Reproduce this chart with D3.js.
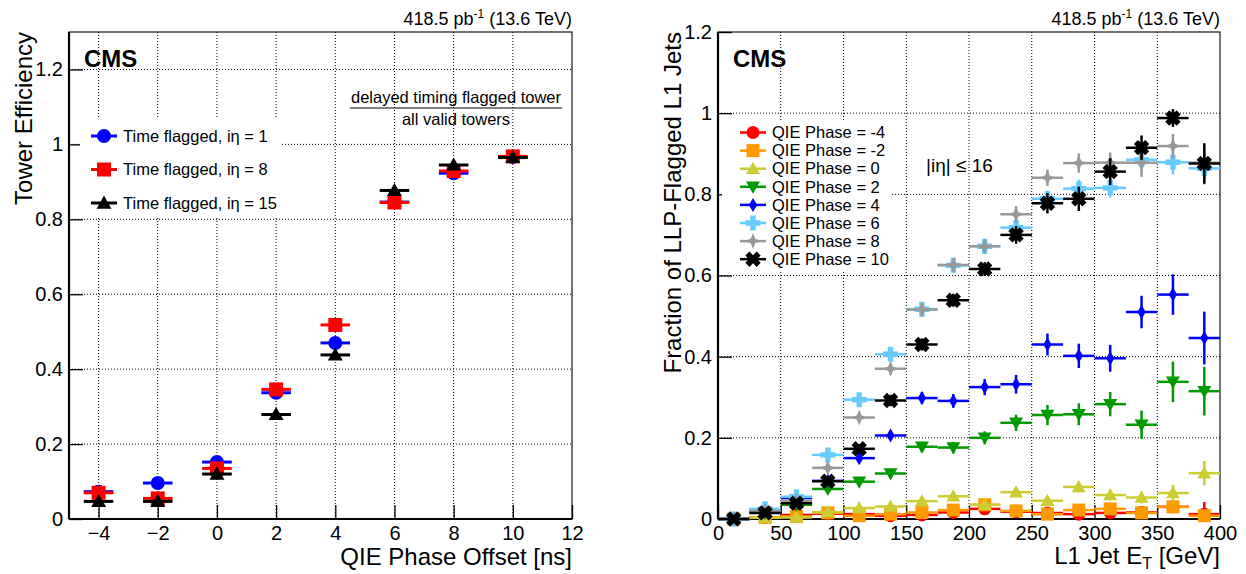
<!DOCTYPE html>
<html>
<head>
<meta charset="utf-8">
<script src="https://cdn.jsdelivr.net/npm/d3@7"></script>
<style>
  body { margin: 0; background: #fff; }
  text { font-family: "Liberation Sans", Arial, Helvetica, sans-serif; }
</style>
</head>
<body>
<svg id="chart" width="1246" height="574"></svg>
<script>
// ---- left panel: tower efficiency vs QIE phase offset
var phaseOffsets = [-4, -2, 0, 2, 4, 6, 8, 10];
var effIeta1  = [0.073, 0.096, 0.152, 0.337, 0.470, 0.846, 0.923, 0.966];
var effIeta8  = [0.070, 0.055, 0.135, 0.346, 0.518, 0.845, 0.929, 0.968];
var effIeta15 = [0.047, 0.047, 0.120, 0.279, 0.438, 0.877, 0.945, 0.965];
var leftXTicks = [-4, -2, 0, 2, 4, 6, 8, 10, 12];
var leftYTicks = [0, 0.2, 0.4, 0.6, 0.8, 1, 1.2];

// ---- right panel: fraction of LLP-flagged L1 jets vs L1 jet ET
var etBinCenters = [12.5, 37.5, 62.5, 87.5, 112.5, 137.5, 162.5, 187.5, 212.5, 237.5, 262.5, 287.5, 312.5, 337.5, 362.5, 387.5];
var fracPhaseM4 = [0.0, 0.004, 0.010, 0.013, 0.012, 0.008, 0.010, 0.016, 0.025, 0.018, 0.015, 0.012, 0.015, 0.016, 0.030, 0.012];
var errPhaseM4  = [0.002, 0.002, 0.003, 0.003, 0.004, 0.004, 0.005, 0.006, 0.007, 0.007, 0.008, 0.009, 0.010, 0.012, 0.015, 0.030];
var fracPhaseM2 = [0.0, 0.004, 0.006, 0.015, 0.008, 0.012, 0.016, 0.022, 0.035, 0.020, 0.012, 0.022, 0.025, 0.015, 0.030, 0.008];
var errPhaseM2  = [0.002, 0.002, 0.003, 0.003, 0.004, 0.004, 0.005, 0.006, 0.008, 0.007, 0.007, 0.009, 0.010, 0.010, 0.014, 0.012];
var fracPhase0  = [0.0, 0.003, 0.004, 0.017, 0.027, 0.031, 0.044, 0.056, 0.035, 0.066, 0.045, 0.079, 0.059, 0.053, 0.064, 0.113];
var errPhase0   = [0.002, 0.003, 0.003, 0.004, 0.005, 0.006, 0.007, 0.008, 0.008, 0.010, 0.010, 0.013, 0.013, 0.015, 0.020, 0.030];
var fracPhase2  = [0.0, 0.015, 0.035, 0.074, 0.092, 0.112, 0.178, 0.176, 0.200, 0.237, 0.256, 0.258, 0.283, 0.232, 0.338, 0.315];
var errPhase2   = [0.003, 0.004, 0.006, 0.008, 0.009, 0.010, 0.012, 0.014, 0.016, 0.020, 0.025, 0.027, 0.030, 0.035, 0.050, 0.060];
var fracPhase4  = [0.0, 0.022, 0.052, 0.094, 0.150, 0.206, 0.298, 0.291, 0.325, 0.332, 0.430, 0.402, 0.396, 0.510, 0.553, 0.446];
var errPhase4   = [0.003, 0.005, 0.007, 0.009, 0.010, 0.012, 0.015, 0.017, 0.020, 0.023, 0.027, 0.030, 0.033, 0.040, 0.050, 0.065];
var fracPhase6  = [0.0, 0.025, 0.055, 0.158, 0.294, 0.406, 0.517, 0.625, 0.672, 0.718, 0.789, 0.814, 0.816, 0.885, 0.879, 0.864];
var errPhase6   = [0.003, 0.005, 0.008, 0.010, 0.012, 0.014, 0.016, 0.016, 0.017, 0.018, 0.020, 0.022, 0.024, 0.025, 0.030, 0.040];
var fracPhase8  = [0.0, 0.020, 0.045, 0.126, 0.250, 0.370, 0.516, 0.626, 0.672, 0.751, 0.841, 0.877, 0.878, 0.878, 0.919, 0.878];
var errPhase8   = [0.003, 0.005, 0.008, 0.010, 0.012, 0.014, 0.016, 0.016, 0.017, 0.020, 0.020, 0.024, 0.025, 0.035, 0.030, 0.040];
var fracPhase10 = [0.0, 0.015, 0.039, 0.093, 0.173, 0.292, 0.430, 0.539, 0.616, 0.700, 0.778, 0.789, 0.856, 0.915, 0.988, 0.876];
var errPhase10  = [0.003, 0.005, 0.007, 0.010, 0.012, 0.014, 0.015, 0.016, 0.017, 0.022, 0.025, 0.030, 0.033, 0.030, 0.022, 0.050];
var rightXTicks = [0, 50, 100, 150, 200, 250, 300, 350, 400];
var rightYTicks = [0, 0.2, 0.4, 0.6, 0.8, 1, 1.2];

var FONT_TICK = 20, FONT_TITLE = 24;
var svg = d3.select("#chart");

// marker shapes, roughly like the ROOT ones
function markerPath(type, s) {
    var a = s / 2;
    switch (type) {
    case "circle":  return d3.symbol(d3.symbolCircle, Math.PI * a * a)();
    case "square":  return "M" + -a + "," + -a + "h" + s + "v" + s + "h" + -s + "Z";
    case "triUp":   return "M0," + (-a) + "L" + a + "," + (a * 0.75) + "L" + -a + "," + (a * 0.75) + "Z";
    case "triDown": return "M0," + a + "L" + a + "," + (-a * 0.75) + "L" + -a + "," + (-a * 0.75) + "Z";
    case "diamond": return "M0," + -a + "L" + a * 0.6 + ",0L0," + a + "L" + -a * 0.6 + ",0Z";
    case "plus":
    case "xcross":
        var t = a * 0.36;
        return "M" + -t + "," + -a + "H" + t + "V" + -t + "H" + a + "V" + t + "H" + t + "V" + a +
               "H" + -t + "V" + t + "H" + -a + "V" + -t + "H" + -t + "Z";
    case "star":
        var pts = [];
        for (var i = 0; i < 8; i++) {
            var r = (i % 2 == 0) ? a : a * 0.4, ang = i * Math.PI / 4 - Math.PI / 2;
            pts.push([r * Math.cos(ang), r * Math.sin(ang)]);
        }
        return "M" + pts.join("L") + "Z";
    }
}

function fmtTick(d) { return d3.format("~g")(d).replace("-", "\u2212"); }

// frame, grid, ticks and tick labels of one pad
function drawPad(x, y, xTicks, yTicks, xMinor, yMinor) {
    var x0 = x.range()[0], x1 = x.range()[1], yb = y.range()[0], yt = y.range()[1];
    var g = svg.append("g");

    // dotted grid on major ticks
    g.append("g").selectAll("line")
        .data(xTicks.filter(function (d) { return x(d) > x0 + 1 && x(d) < x1 - 1; }))
        .enter().append("line")
        .attr("x1", function (d) { return x(d); }).attr("x2", function (d) { return x(d); })
        .attr("y1", yb).attr("y2", yt)
        .attr("stroke", "#000").attr("stroke-width", 1).attr("stroke-dasharray", "1,2");
    g.append("g").selectAll("line")
        .data(yTicks.filter(function (d) { return y(d) < yb - 1 && y(d) > yt + 1; }))
        .enter().append("line")
        .attr("x1", x0).attr("x2", x1)
        .attr("y1", function (d) { return y(d); }).attr("y2", function (d) { return y(d); })
        .attr("stroke", "#000").attr("stroke-width", 1).attr("stroke-dasharray", "1,2");

    // axes, ticks pointing inside the frame
    var ax = g.append("g").attr("transform", "translate(0," + yb + ")");
    ax.call(d3.axisBottom(x).tickValues(xMinor).tickSize(-7).tickFormat(""));
    ax.call(d3.axisBottom(x).tickValues(xTicks).tickSize(-14).tickPadding(7).tickFormat(fmtTick));
    var ay = g.append("g").attr("transform", "translate(" + x0 + ",0)");
    ay.call(d3.axisLeft(y).tickValues(yMinor).tickSize(-7).tickFormat(""));
    ay.call(d3.axisLeft(y).tickValues(yTicks).tickSize(-14).tickPadding(6).tickFormat(fmtTick));
    g.selectAll(".domain").remove();
    g.selectAll(".tick line").attr("stroke", "#000").attr("stroke-width", 1.3);
    g.selectAll(".tick text").attr("font-size", FONT_TICK).attr("fill", "#000")
        .style("font-family", "'Liberation Sans', Arial, sans-serif");

    // frame box
    g.append("rect").attr("x", x0).attr("y", yt).attr("width", x1 - x0).attr("height", yb - yt)
        .attr("fill", "none").attr("stroke", "#000").attr("stroke-width", 1.1);
    g.append("line").attr("x1", x0).attr("x2", x1).attr("y1", yb).attr("y2", yb)
        .attr("stroke", "#000").attr("stroke-width", 2.2);
    g.append("line").attr("x1", x0).attr("x2", x0).attr("y1", yt).attr("y2", yb)
        .attr("stroke", "#000").attr("stroke-width", 2.2);
    return g;
}

function drawSeries(g, x, y, xs, ys, errs, halfW, s) {
    var pts = xs.map(function (d, i) { return { x: d, y: ys[i], e: errs ? errs[i] : 0 }; });
    var sg = g.append("g");
    sg.selectAll(".hbar").data(pts).enter().append("line")
        .attr("x1", function (d) { return x(d.x - halfW); })
        .attr("x2", function (d) { return x(d.x + halfW); })
        .attr("y1", function (d) { return y(d.y); }).attr("y2", function (d) { return y(d.y); })
        .attr("stroke", s.color).attr("stroke-width", s.lw);
    sg.selectAll(".vbar").data(pts.filter(function (d) { return d.e > 0; })).enter().append("line")
        .attr("x1", function (d) { return x(d.x); }).attr("x2", function (d) { return x(d.x); })
        .attr("y1", function (d) { return y(Math.max(0, d.y - d.e)); })
        .attr("y2", function (d) { return y(d.y + d.e); })
        .attr("stroke", s.color).attr("stroke-width", s.lw);
    sg.selectAll("path").data(pts).enter().append("path")
        .attr("d", markerPath(s.shape, s.size))
        .attr("transform", function (d) {
            return "translate(" + x(d.x) + "," + y(d.y) + ")" + (s.shape == "xcross" ? " rotate(45)" : "");
        })
        .attr("fill", s.color);
}

function legendEntry(g, cx, cy, s, label, fontSize) {
    g.append("line").attr("x1", cx - 13).attr("x2", cx + 13).attr("y1", cy).attr("y2", cy)
        .attr("stroke", s.color).attr("stroke-width", s.lw);
    g.append("path").attr("d", markerPath(s.shape, s.size))
        .attr("transform", "translate(" + cx + "," + cy + ")" + (s.shape == "xcross" ? " rotate(45)" : ""))
        .attr("fill", s.color);
    g.append("text").attr("x", cx + 19).attr("y", cy).attr("dy", "0.35em")
        .attr("font-size", fontSize).text(label);
}

function lumiLabel(xRight) {
    var t = svg.append("text").attr("x", xRight).attr("y", 25).attr("text-anchor", "end").attr("font-size", 18);
    t.append("tspan").text("418.5 pb");
    t.append("tspan").attr("dy", -7).attr("font-size", 12).text("-1");
    t.append("tspan").attr("dy", 7).text(" (13.6 TeV)");
}

// ================= left pad =================
var xL = d3.scaleLinear().domain([-5, 12]).range([69, 572]);
var yL = d3.scaleLinear().domain([0, 1.3]).range([519, 32]);
var gL = drawPad(xL, yL, leftXTicks, leftYTicks, d3.range(-5, 12.01, 0.5), d3.range(0, 1.3, 0.05));

// legend box covers the grid
gL.append("rect").attr("x", 80).attr("y", 118).attr("width", 202).attr("height", 100).attr("fill", "#fff");

var leftSeries = [
    { ys: effIeta1,  color: "#0000ff", shape: "circle", size: 14, lw: 3, label: "Time flagged, i\u03b7 = 1" },
    { ys: effIeta8,  color: "#ff0000", shape: "square", size: 14, lw: 3, label: "Time flagged, i\u03b7 = 8" },
    { ys: effIeta15, color: "#000000", shape: "triUp",  size: 15, lw: 3, label: "Time flagged, i\u03b7 = 15" }
];
leftSeries.forEach(function (s, i) {
    drawSeries(gL, xL, yL, phaseOffsets, s.ys, null, 0.5, s);
    legendEntry(gL, 104, 136 + i * 33.5, s, s.label, 16.5);
});

gL.append("text").attr("x", 456).attr("y", 103).attr("text-anchor", "middle").attr("font-size", 16.5)
    .text("delayed timing flagged tower");
gL.append("line").attr("x1", 350).attr("x2", 562).attr("y1", 108).attr("y2", 108)
    .attr("stroke", "#000").attr("stroke-width", 1.2);
gL.append("text").attr("x", 456).attr("y", 125).attr("text-anchor", "middle").attr("font-size", 16.5)
    .text("all valid towers");

svg.append("text").attr("x", 84).attr("y", 67).attr("font-size", 24).attr("font-weight", "bold").text("CMS");
lumiLabel(572);
svg.append("text").attr("transform", "translate(32,32) rotate(-90)").attr("text-anchor", "end")
    .attr("font-size", FONT_TITLE).text("Tower Efficiency");
svg.append("text").attr("x", 572).attr("y", 565).attr("text-anchor", "end")
    .attr("font-size", FONT_TITLE).text("QIE Phase Offset [ns]");

// ================= right pad =================
var xR = d3.scaleLinear().domain([0, 400]).range([718, 1220]);
var yR = d3.scaleLinear().domain([0, 1.2]).range([519, 32]);
var gR = drawPad(xR, yR, rightXTicks, rightYTicks, d3.range(0, 400.1, 10), d3.range(0, 1.2, 0.05));

gR.append("rect").attr("x", 722).attr("y", 121).attr("width", 170).attr("height", 150).attr("fill", "#fff");

var rightSeries = [
    { ys: fracPhaseM4, es: errPhaseM4, color: "#ff0000", shape: "circle",  size: 13, label: "QIE Phase = -4" },
    { ys: fracPhaseM2, es: errPhaseM2, color: "#ff9900", shape: "square",  size: 13, label: "QIE Phase = -2" },
    { ys: fracPhase0,  es: errPhase0,  color: "#cccc33", shape: "triUp",   size: 14, label: "QIE Phase = 0" },
    { ys: fracPhase2,  es: errPhase2,  color: "#009900", shape: "triDown", size: 14, label: "QIE Phase = 2" },
    { ys: fracPhase4,  es: errPhase4,  color: "#0000ff", shape: "diamond", size: 14, label: "QIE Phase = 4" },
    { ys: fracPhase6,  es: errPhase6,  color: "#66ccff", shape: "plus",    size: 15, label: "QIE Phase = 6" },
    { ys: fracPhase8,  es: errPhase8,  color: "#999999", shape: "star",    size: 16, label: "QIE Phase = 8" },
    { ys: fracPhase10, es: errPhase10, color: "#000000", shape: "xcross",  size: 16, label: "QIE Phase = 10" }
];
rightSeries.forEach(function (s, i) {
    s.lw = 2.5;
    drawSeries(gR, xR, yR, etBinCenters, s.ys, s.es, 12.5, s);
    legendEntry(gR, 753, 132.5 + i * 18.1, s, s.label, 16.5);
});

gR.append("text").attr("x", 926).attr("y", 172).attr("font-size", 19).text("|i\u03b7| \u2264 16");

svg.append("text").attr("x", 733).attr("y", 67).attr("font-size", 24).attr("font-weight", "bold").text("CMS");
lumiLabel(1220);
svg.append("text").attr("transform", "translate(681,32) rotate(-90)").attr("text-anchor", "end")
    .attr("font-size", FONT_TITLE).text("Fraction of LLP-Flagged L1 Jets");
var xt = svg.append("text").attr("x", 1220).attr("y", 564).attr("text-anchor", "end").attr("font-size", FONT_TITLE);
xt.append("tspan").text("L1 Jet E");
xt.append("tspan").attr("dy", 5).attr("font-size", 16).text("T");
xt.append("tspan").attr("dy", -5).text(" [GeV]");
</script>
</body>
</html>
